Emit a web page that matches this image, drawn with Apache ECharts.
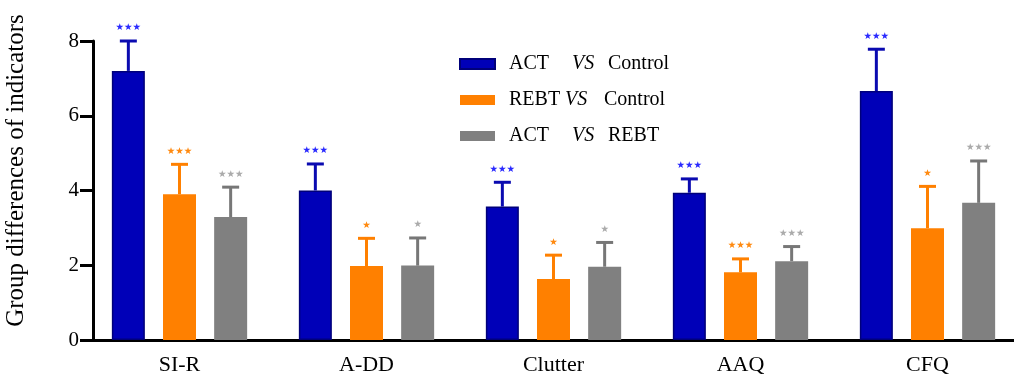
<!DOCTYPE html>
<html>
<head>
<meta charset="utf-8">
<script src="https://cdn.jsdelivr.net/npm/echarts@6/dist/echarts.min.js"></script>
<style>
    html, body { margin: 0; padding: 0; background: #fff; }
    #chart1 { width: 1014px; height: 378px; }
</style>
</head>
<body>
<div id="chart1"></div>
<script>
// data
var categories = ['SI-R', 'A-DD', 'Clutter', 'AAQ', 'CFQ'];
var groupNames = ['ACT VS Control', 'REBT VS Control', 'ACT VS REBT'];
var actControl = [7.2, 4.0, 3.57, 3.94, 6.66];
var actControlErr = [8.0, 4.71, 4.22, 4.31, 7.78];   // top of error bar
var rebtControl = [3.9, 1.98, 1.63, 1.81, 2.99];
var rebtControlErr = [4.7, 2.72, 2.27, 2.17, 4.11];
var actRebt = [3.29, 1.99, 1.96, 2.11, 3.67];
var actRebtErr = [4.09, 2.73, 2.61, 2.5, 4.79];
var sigActControl = ['***', '***', '***', '***', '***'];
var sigRebtControl = ['***', '*', '*', '***', '*'];
var sigActRebt = ['***', '*', '*', '***', '***'];
var yTicks = [0, 2, 4, 6, 8];

var serif = 'Liberation Serif';
var barWidth = 33;
var barGap = 0.55;

// error bar + stars for one group
function errorSeries(g, values, errTop, sig, lineColor, starColor) {
    var data = [];
    for (var i = 0; i < categories.length; i++) {
        data.push([i, values[i], errTop[i]]);
    }
    return {
        name: groupNames[g],
        type: 'custom',
        z: 3,
        renderItem: function (params, api) {
            var shift = (g - 1) * barWidth * (1 + barGap);
            var base = api.coord([api.value(0), api.value(1)]);
            var top = api.coord([api.value(0), api.value(2)]);
            var x = base[0] + shift;
            var stars = sig[params.dataIndex].replace(/\*/g, '\u2605');
            return {
                type: 'group',
                children: [{
                    type: 'line',
                    shape: { x1: x, y1: base[1], x2: x, y2: top[1] },
                    style: { stroke: lineColor, lineWidth: 3 }
                }, {
                    type: 'line',
                    shape: { x1: x - 8.5, y1: top[1], x2: x + 8.5, y2: top[1] },
                    style: { stroke: lineColor, lineWidth: 3 }
                }, {
                    type: 'text',
                    x: x,
                    y: top[1] - 8,
                    style: {
                        text: stars,
                        fill: starColor,
                        fontSize: 9.5,
                        fontFamily: 'DejaVu Sans',
                        align: 'center',
                        verticalAlign: 'bottom'
                    }
                }]
            };
        },
        data: data
    };
}

function barSeries(g, values, fill, border) {
    return {
        name: groupNames[g],
        type: 'bar',
        barWidth: barWidth,
        barGap: (barGap * 100) + '%',
        itemStyle: {
            color: fill,
            borderColor: border,
            borderWidth: border ? 1.5 : 0
        },
        data: values
    };
}

drawChart1();

function drawChart1() {
    var dom1 = document.getElementById("chart1");
    var myChart1 = echarts.init(dom1);
    var option = {
        animation: false,
        textStyle: {
            fontFamily: serif
        },
        grid: {
            left: 86,
            top: 41,
            width: 935,
            bottom: 38,
            outerBoundsMode: 'none'
        },
        legend: {
            orient: 'vertical',
            left: 454,
            top: 49,
            icon: 'rect',
            itemWidth: 35,
            itemHeight: 10,
            itemGap: 16,
            selectedMode: false,
            data: groupNames,
            formatter: function (name) {
                var parts = name.split(' VS ');
                if (parts[0] === 'ACT') {
                    return '{a|' + parts[0] + '}{v|VS}{c|' + parts[1] + '}';
                }
                return '{b|' + parts[0] + '}{w|VS}{c|' + parts[1] + '}';
            },
            textStyle: {
                fontFamily: serif,
                fontSize: 20,
                color: '#000',
                rich: {
                    a: { fontFamily: serif, fontSize: 20, width: 63, padding: [0, 0, 0, 9], lineHeight: 20 },
                    b: { fontFamily: serif, fontSize: 20, width: 56, padding: [0, 0, 0, 9], lineHeight: 20 },
                    v: { fontFamily: serif, fontSize: 20, fontStyle: 'italic', width: 36, lineHeight: 20 },
                    w: { fontFamily: serif, fontSize: 20, fontStyle: 'italic', width: 39, lineHeight: 20 },
                    c: { fontFamily: serif, fontSize: 20, lineHeight: 20 }
                }
            }
        },
        xAxis: {
            type: 'category',
            data: categories,
            axisLine: {
                lineStyle: { color: '#000', width: 3 }
            },
            axisTick: {
                alignWithLabel: true,
                length: 12,
                lineStyle: { color: '#000', width: 3 }
            },
            axisLabel: {
                margin: 14,
                color: '#000',
                fontFamily: serif,
                fontSize: 22
            }
        },
        yAxis: {
            type: 'value',
            min: yTicks[0],
            max: yTicks[yTicks.length - 1],
            interval: yTicks[1] - yTicks[0],
            offset: -7,
            name: 'Group differences of indicators',
            nameLocation: 'middle',
            nameGap: 64,
            nameRotate: 90,
            nameTextStyle: {
                fontFamily: serif,
                fontSize: 25,
                color: '#000',
                padding: [0, 0, 0, 40]
            },
            axisLine: {
                show: true,
                lineStyle: { color: '#000', width: 3 }
            },
            axisTick: {
                show: true,
                length: 13,
                lineStyle: { color: '#000', width: 3 }
            },
            axisLabel: {
                margin: 14,
                color: '#000',
                fontFamily: serif,
                fontSize: 21
            },
            splitLine: { show: false }
        },
        series: [
            barSeries(0, actControl, '#0000b8', '#00007a'),
            barSeries(1, rebtControl, '#ff8000', null),
            barSeries(2, actRebt, '#808080', null),
            errorSeries(0, actControl, actControlErr, sigActControl, '#0a0ab0', '#2a2aff'),
            errorSeries(1, rebtControl, rebtControlErr, sigRebtControl, '#ff8000', '#ff8a10'),
            errorSeries(2, actRebt, actRebtErr, sigActRebt, '#777777', '#ababab')
        ]
    };
    if (option && typeof option === "object") {
        myChart1.setOption(option, true);
        window.onresize = myChart1.resize;
    }
}
</script>
</body>
</html>
